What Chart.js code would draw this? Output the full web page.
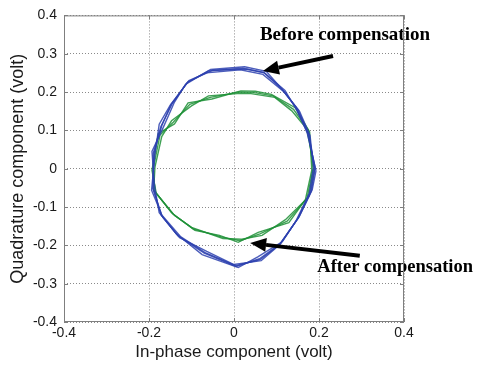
<!DOCTYPE html>
<html>
<head>
<meta charset="utf-8">
<script src="https://cdn.jsdelivr.net/npm/chart.js@4.4.1/dist/chart.umd.min.js"></script>
<style>
html,body{margin:0;padding:0;background:#fff;}
#wrap{width:477px;height:370px;}
</style>
</head>
<body>
<div id="wrap"><canvas id="c" width="477" height="370"></canvas></div>
<script>
// Axis ticks
const xTicks = [-0.4, -0.2, 0, 0.2, 0.4];
const yTicks = [-0.4, -0.3, -0.2, -0.1, 0, 0.1, 0.2, 0.3, 0.4];

// Before compensation (blue) traces, closed polygons
const beforeX1 = [0.190, 0.176, 0.150, 0.115, 0.072, 0.020, -0.060, -0.110, -0.145, -0.172, -0.190, -0.190, -0.172, -0.132, -0.070, 0.005, 0.060, 0.110, 0.150, 0.180, 0.190];
const beforeY1 = [0.000, 0.090, 0.155, 0.205, 0.250, 0.262, 0.255, 0.225, 0.170, 0.110, 0.040, -0.050, -0.120, -0.175, -0.220, -0.255, -0.235, -0.195, -0.130, -0.060, 0.000];
const beforeX2 = [0.193, 0.172, 0.146, 0.118, 0.068, 0.015, -0.065, -0.106, -0.150, -0.176, -0.186, -0.194, -0.168, -0.128, -0.064, 0.000, 0.064, 0.106, 0.154, 0.184, 0.193];
const beforeY2 = [-0.005, 0.094, 0.160, 0.200, 0.246, 0.258, 0.250, 0.230, 0.166, 0.116, 0.036, -0.056, -0.126, -0.180, -0.216, -0.250, -0.240, -0.200, -0.124, -0.055, -0.005];
const beforeX3 = [0.187, 0.179, 0.154, 0.111, 0.076, 0.025, -0.055, -0.114, -0.140, -0.168, -0.193, -0.187, -0.176, -0.136, -0.075, 0.010, 0.056, 0.114, 0.146, 0.177, 0.187];
const beforeY3 = [0.004, 0.086, 0.150, 0.210, 0.254, 0.266, 0.259, 0.220, 0.174, 0.104, 0.045, -0.045, -0.115, -0.170, -0.224, -0.258, -0.230, -0.190, -0.136, -0.065, 0.004];
const beforeX4 = [0.191, 0.174, 0.148, 0.120, 0.070, 0.030, -0.050, -0.108, -0.148, -0.170, -0.188, -0.191, -0.170, -0.125, -0.068, 0.004, 0.062, 0.108, 0.152, 0.182, 0.191];
const beforeY4 = [0.002, 0.092, 0.152, 0.204, 0.251, 0.260, 0.257, 0.227, 0.168, 0.112, 0.042, -0.052, -0.121, -0.178, -0.219, -0.253, -0.237, -0.197, -0.128, -0.058, 0.002];

// After compensation (green) traces, closed polygons
const afterX1 = [0.186, 0.175, 0.140, 0.092, 0.045, 0.012, -0.056, -0.104, -0.143, -0.174, -0.190, -0.186, -0.143, -0.096, -0.030, 0.014, 0.061, 0.125, 0.172, 0.186];
const afterY1 = [0.000, 0.100, 0.155, 0.190, 0.199, 0.200, 0.186, 0.168, 0.121, 0.088, 0.000, -0.060, -0.119, -0.157, -0.178, -0.188, -0.170, -0.137, -0.077, 0.000];
const afterX2 = [0.189, 0.171, 0.136, 0.096, 0.040, 0.008, -0.060, -0.100, -0.147, -0.170, -0.186, -0.189, -0.139, -0.100, -0.026, 0.018, 0.066, 0.121, 0.176, 0.189];
const afterY2 = [0.004, 0.104, 0.151, 0.186, 0.196, 0.196, 0.190, 0.164, 0.125, 0.084, 0.004, -0.056, -0.123, -0.153, -0.182, -0.184, -0.174, -0.133, -0.073, 0.004];
const afterX3 = [0.183, 0.178, 0.144, 0.088, 0.050, 0.016, -0.052, -0.108, -0.140, -0.178, -0.193, -0.183, -0.147, -0.092, -0.034, 0.010, 0.057, 0.129, 0.168, 0.183];
const afterY3 = [-0.004, 0.096, 0.159, 0.194, 0.202, 0.203, 0.182, 0.172, 0.117, 0.092, -0.004, -0.064, -0.115, -0.161, -0.174, -0.192, -0.166, -0.141, -0.081, -0.004];

const blue = 'rgba(45,65,175,0.85)';
const green = 'rgba(30,145,55,0.85)';

function pts(xs, ys){ return xs.map((x,i)=>({x:x, y:ys[i]})); }
function trace(xs, ys, color){
  return {data: pts(xs, ys), showLine: true, borderColor: color, borderWidth: 1.4, pointRadius: 0, fill: false, tension: 0};
}

const annotations = [
  {text: 'Before compensation', size: 19, tx: 0.061, ty: 0.348, from: [0.233, 0.294], to: [0.068, 0.255]},
  {text: 'After compensation', size: 18.5, tx: 0.196, ty: -0.258, from: [0.296, -0.227], to: [0.038, -0.194]}
];

const annotPlugin = {
  id: 'annot',
  afterDatasetsDraw(chart){
    const ctx = chart.ctx, xs = chart.scales.x, ys = chart.scales.y;
    ctx.save();
    annotations.forEach(a => {
      const x1 = xs.getPixelForValue(a.from[0]), y1 = ys.getPixelForValue(a.from[1]);
      const x2 = xs.getPixelForValue(a.to[0]), y2 = ys.getPixelForValue(a.to[1]);
      const ang = Math.atan2(y2 - y1, x2 - x1);
      const head = 16, hw = 7;
      const bx = x2 - head * Math.cos(ang), by = y2 - head * Math.sin(ang);
      ctx.strokeStyle = '#000'; ctx.fillStyle = '#000';
      ctx.lineWidth = 4;
      ctx.beginPath(); ctx.moveTo(x1, y1); ctx.lineTo(bx, by); ctx.stroke();
      ctx.beginPath();
      ctx.moveTo(x2, y2);
      ctx.lineTo(bx + hw * Math.sin(ang), by - hw * Math.cos(ang));
      ctx.lineTo(bx - hw * Math.sin(ang), by + hw * Math.cos(ang));
      ctx.closePath(); ctx.fill();
      ctx.font = 'bold ' + a.size + 'px "Liberation Serif", "Times New Roman", serif';
      ctx.textAlign = 'left'; ctx.textBaseline = 'middle';
      ctx.fillText(a.text, xs.getPixelForValue(a.tx), ys.getPixelForValue(a.ty));
    });
    ctx.restore();
  }
};

const framePlugin = {
  id: 'frame',
  afterDraw(chart){
    const {left, right, top, bottom} = chart.chartArea;
    const ctx = chart.ctx;
    ctx.save();
    ctx.strokeStyle = '#7f7f7f'; ctx.lineWidth = 1;
    ctx.strokeRect(left + 0.5, top + 0.5, right - left - 1, bottom - top - 1);
    // small inward tick marks on all four sides
    ctx.beginPath();
    chart.scales.x.ticks.forEach(t => {
      const px = Math.round(chart.scales.x.getPixelForValue(t.value)) + 0.5;
      ctx.moveTo(px, bottom); ctx.lineTo(px, bottom - 4);
      ctx.moveTo(px, top); ctx.lineTo(px, top + 4);
    });
    chart.scales.y.ticks.forEach(t => {
      const py = Math.round(chart.scales.y.getPixelForValue(t.value)) + 0.5;
      ctx.moveTo(left, py); ctx.lineTo(left + 4, py);
      ctx.moveTo(right, py); ctx.lineTo(right - 4, py);
    });
    ctx.stroke();
    ctx.restore();
  }
};

const tickFont = {family: 'Liberation Sans, Arial, sans-serif', size: 14};

new Chart(document.getElementById('c'), {
  type: 'scatter',
  data: {
    datasets: [
      trace(beforeX1, beforeY1, blue), trace(beforeX2, beforeY2, blue), trace(beforeX3, beforeY3, blue), trace(beforeX4, beforeY4, blue),
      trace(afterX1, afterY1, green), trace(afterX2, afterY2, green), trace(afterX3, afterY3, green)
    ]
  },
  options: {
    responsive: false, animation: false, devicePixelRatio: 1,
    layout: {padding: {top: 12, right: 73, left: 0, bottom: 0}},
    plugins: {legend: {display: false}, tooltip: {enabled: false}},
    scales: {
      x: {
        type: 'linear', min: -0.4, max: 0.4,
        afterBuildTicks(s){ s.ticks = xTicks.map(v => ({value: v})); },
        afterFit(s){ s.height = 48; },
        grid: {color: '#8a8a8a', lineWidth: 1, drawTicks: false, tickLength: 0},
        border: {display: false, dash: [1,2]},
        ticks: {font: tickFont, color: '#1a1a1a', padding: 3, maxRotation: 0,
                callback: v => (v === 0 ? '0' : String(Math.round(v*10)/10))},
        title: {display: true, text: 'In-phase component (volt)', font: {family: 'Liberation Sans, Arial, sans-serif', size: 17}, color: '#1a1a1a', padding: {top: 0, bottom: 7}}
      },
      y: {
        type: 'linear', min: -0.4, max: 0.4,
        afterBuildTicks(s){ s.ticks = yTicks.map(v => ({value: v})); },
        afterFit(s){ s.width = 64; },
        grid: {color: '#8a8a8a', lineWidth: 1, drawTicks: false, tickLength: 0},
        border: {display: false, dash: [1,2]},
        ticks: {font: tickFont, color: '#1a1a1a', padding: 7,
                callback: v => (v === 0 ? '0' : String(Math.round(v*10)/10))},
        title: {display: true, text: 'Quadrature component (volt)', font: {family: 'Liberation Sans, Arial, sans-serif', size: 18}, color: '#1a1a1a', padding: {top: 7, bottom: 0}}
      }
    }
  },
  plugins: [annotPlugin, framePlugin]
});
</script>
</body>
</html>
